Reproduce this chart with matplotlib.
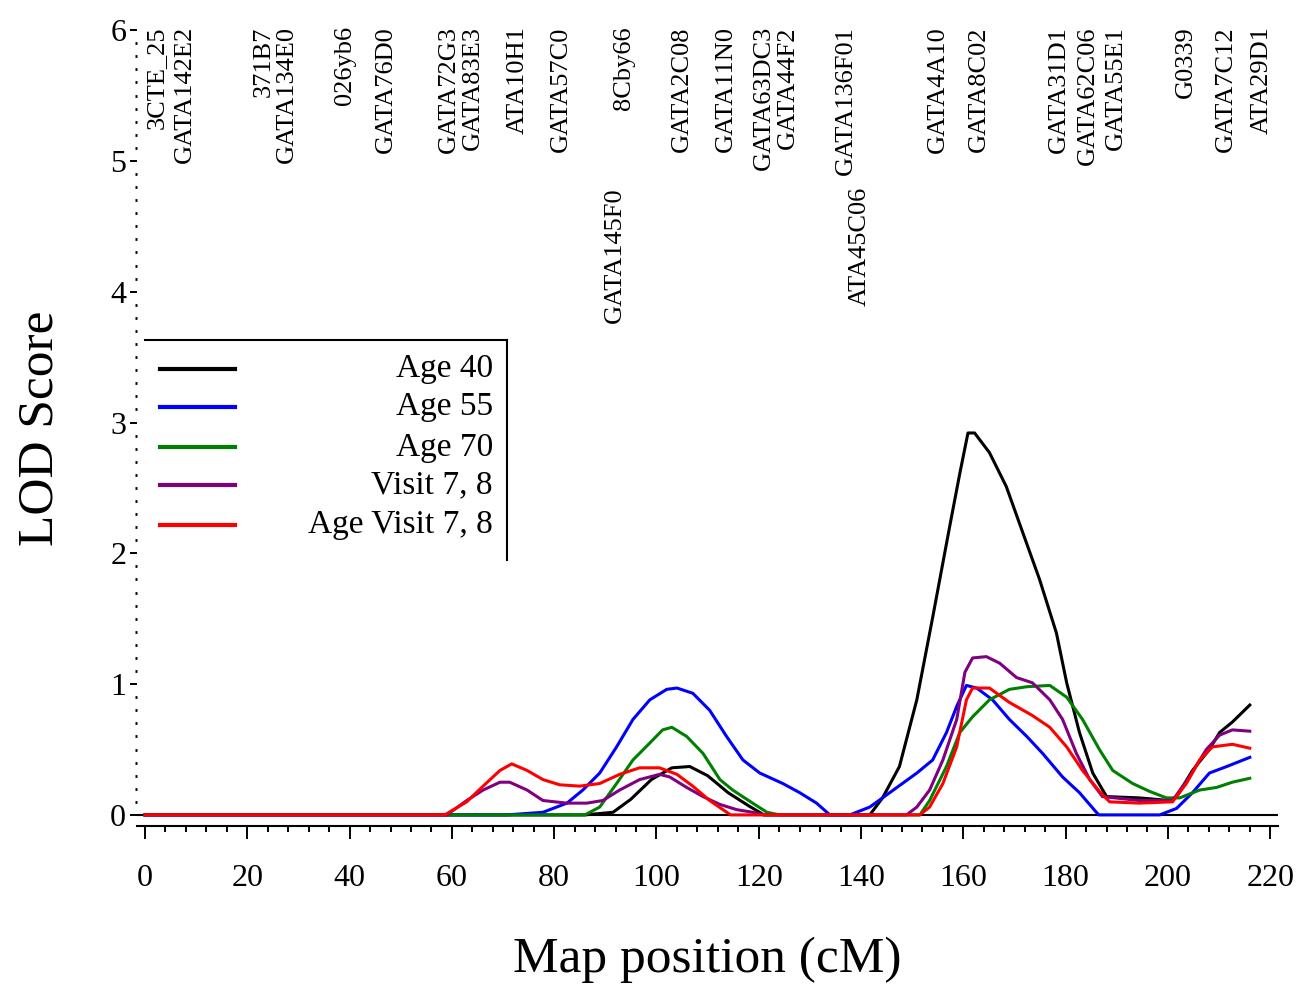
import numpy as np
import matplotlib
matplotlib.use("Agg")
import matplotlib.pyplot as plt
from matplotlib.ticker import MultipleLocator

plt.rcParams['font.family'] = ['Liberation Serif', 'DejaVu Serif']

# LOD curves (map position in cM, LOD score)
pos_age40 = [0, 86, 91.5, 95, 99, 103, 106.5, 110, 114, 118, 121, 141.7, 144.2, 147.5, 150.9, 154,
             157.3, 159.3, 160.9, 162.2, 165.1, 168.4, 171.6, 174.9, 178.2, 180.2, 182.7, 185.3,
             188, 194.4, 200.3, 201.7, 204.8, 208.1, 210.1, 212.6, 216]
lod_age40 = [0, 0, 0.02, 0.12, 0.27, 0.36, 0.37, 0.30, 0.17, 0.07, 0, 0, 0.13, 0.37, 0.88, 1.51,
             2.2, 2.61, 2.92, 2.92, 2.77, 2.51, 2.16, 1.80, 1.39, 1.01, 0.63, 0.32,
             0.14, 0.13, 0.11, 0.14, 0.34, 0.50, 0.63, 0.71, 0.84]

pos_age55 = [0, 70.7, 77.8, 82.5, 85.6, 88.9, 92.2, 95.4, 98.7, 102, 104, 107.1, 110.4, 113.7,
             116.9, 120.2, 124.7, 128, 131.3, 133.9, 137.8, 141.7, 145.6, 150.9, 154, 156.7,
             158.7, 160.6, 162.6, 165.7, 169, 172.4, 175.5, 179.4, 182.7, 186, 186.5, 198.4,
             201.7, 204.8, 208.1, 211.5, 216]
lod_age55 = [0, 0, 0.02, 0.09, 0.19, 0.32, 0.52, 0.73, 0.88, 0.96, 0.97, 0.93, 0.80, 0.60,
             0.42, 0.32, 0.24, 0.17, 0.09, 0, 0, 0.06, 0.17, 0.32, 0.42, 0.63,
             0.83, 0.99, 0.97, 0.88, 0.73, 0.60, 0.47, 0.29, 0.17, 0.02, 0, 0,
             0.05, 0.17, 0.32, 0.37, 0.44]

pos_age70 = [0, 86, 88.9, 92.2, 95.4, 98.7, 101.2, 103, 105.9, 109.1, 112.4, 114.9, 118.8, 121.6,
             124.1, 151.5, 153.4, 156.7, 159.3, 161.8, 165.1, 169, 172.4, 176.9, 180.2, 183.3,
             186.6, 189.2, 193.1, 196.4, 199.7, 202.3, 206.2, 209.5, 212.6, 216]
lod_age70 = [0, 0, 0.06, 0.24, 0.42, 0.55, 0.65, 0.67, 0.60, 0.47, 0.27, 0.19, 0.09, 0.02,
             0, 0, 0.11, 0.37, 0.63, 0.75, 0.88, 0.96, 0.98, 0.99, 0.90, 0.73,
             0.50, 0.34, 0.24, 0.18, 0.13, 0.13, 0.19, 0.21, 0.25, 0.28]

pos_visit = [0, 59, 62.9, 66.1, 69.4, 71.3, 74.7, 77.8, 82.5, 86.4, 89.5, 92.8, 96.7, 100.6,
             102.6, 105.9, 109.1, 112.4, 115.7, 118.8, 121, 148.9, 150.9, 153.4, 156, 158.7,
             160.3, 161.8, 164.5, 167.1, 170.4, 173.5, 176.9, 179.4, 182.1, 184.7, 187.2,
             194.4, 200.9, 204.2, 207.5, 210.1, 212.6, 216]
lod_visit = [0, 0, 0.11, 0.19, 0.25, 0.25, 0.19, 0.11, 0.09, 0.09, 0.11, 0.19, 0.27, 0.31,
             0.29, 0.21, 0.14, 0.08, 0.04, 0.02, 0, 0, 0.06, 0.19, 0.42, 0.73,
             1.09, 1.20, 1.21, 1.16, 1.05, 1.01, 0.88, 0.73, 0.47, 0.27, 0.14,
             0.11, 0.11, 0.29, 0.50, 0.61, 0.65, 0.64]

pos_agevisit = [0, 58.6, 62.9, 66.1, 69.4, 71.7, 74.7, 77.8, 81.1, 85, 88.9, 92.8, 96.7, 100.6,
                104, 107.1, 110.4, 113, 114.5, 151.5, 153.4, 156, 158.7, 160.6, 161.8, 165.1,
                169, 173.5, 176.9, 180.2, 183.3, 186.6, 188.6, 194.4, 200.9, 203.6, 206.2,
                208.7, 212.6, 216]
lod_agevisit = [0, 0, 0.10, 0.22, 0.34, 0.39, 0.34, 0.27, 0.23, 0.22, 0.24, 0.31, 0.36, 0.36,
                0.31, 0.22, 0.11, 0.04, 0, 0, 0.06, 0.24, 0.52, 0.88, 0.97, 0.97,
                0.86, 0.76, 0.67, 0.52, 0.34, 0.18, 0.10, 0.09, 0.10, 0.24, 0.42,
                0.52, 0.54, 0.51]

series_names = ['Age 40', 'Age 55', 'Age 70', 'Visit 7, 8', 'Age Visit 7, 8']
series_colors = ['black', '#0000ff', '#008000', '#800080', '#ff0000']

# marker names along the top (position in cM)
marker_names = ['3CTE_25', 'GATA142E2', '371B7', 'GATA134E0', '026yb6', 'GATA76D0',
                'GATA72G3', 'GATA83E3', 'ATA10H1', 'GATA57C0', '8Cby66', 'GATA2C08',
                'GATA11N0', 'GATA63DC3', 'GATA44F2', 'GATA136F01', 'GATA4A10', 'GATA8C02',
                'GATA31D1', 'GATA62C06', 'GATA55E1', 'G0339', 'GATA7C12', 'ATA29D1']
marker_pos = [2.3, 7.8, 23.3, 27.8, 39.1, 47.1, 59.4, 64.1, 72.9, 81.3, 93.6, 104.9,
              113.5, 121, 125.7, 137, 155, 163, 178.6, 184.3, 189.9, 203.6, 211.3, 218.4]
marker2_names = ['GATA145F0', 'ATA45C06']
marker2_pos = [91.9, 139.7]

fig = plt.figure(figsize=(13.08, 9.85), dpi=100)
ax = fig.add_axes([0.105, 0.1614, 0.872, 0.808])

ax.axhline(0, color='black', lw=1.5, zorder=1)
all_pos = [pos_age40, pos_age55, pos_age70, pos_visit, pos_agevisit]
all_lod = [lod_age40, lod_age55, lod_age70, lod_visit, lod_agevisit]
for p, l, c in zip(all_pos, all_lod, series_colors):
    ax.plot(p, l, color=c, lw=2.2, zorder=2)

ax.set_xlim(-1.5, 221.5)
ax.set_ylim(-0.085, 6.0)

for s in ['top', 'right', 'left']:
    ax.spines[s].set_visible(False)
ax.spines['bottom'].set_linewidth(1.5)

ax.xaxis.set_major_locator(MultipleLocator(20))
ax.xaxis.set_minor_locator(MultipleLocator(4))
ax.yaxis.set_major_locator(MultipleLocator(1))
ax.yaxis.set_minor_locator(MultipleLocator(0.1))
ax.tick_params(axis='x', which='major', length=9, width=1.4, pad=18, labelsize=23)
ax.tick_params(axis='x', which='minor', length=4.5, width=1.4)
ax.tick_params(axis='y', which='major', length=5, width=1.4, pad=3, labelsize=23)
ax.tick_params(axis='y', which='minor', length=1.5, width=2)

ax.set_xlabel('Map position (cM)', fontsize=37, labelpad=32)
ax.set_ylabel('LOD Score', fontsize=37, labelpad=34)

for name, x in zip(marker_names, marker_pos):
    ax.text(x, 6.03, name, rotation=90, ha='center', va='top', fontsize=19, clip_on=False)
for name, x in zip(marker2_names, marker2_pos):
    ax.text(x, 4.80, name, rotation=90, ha='center', va='top', fontsize=19, clip_on=False)

# legend box (only top and right edges drawn, as in the figure)
ax.plot([0, 70.7], [3.63, 3.63], color='black', lw=1.5, clip_on=False)
ax.plot([70.7, 70.7], [3.63, 1.95], color='black', lw=1.5, clip_on=False)
leg_y = [3.41, 3.12, 2.81, 2.52, 2.22]
for name, c, y in zip(series_names, series_colors, leg_y):
    ax.plot([2.9, 17.6], [y, y], color=c, lw=3)
    ax.text(68.0, y, name, ha='right', va='center', fontsize=24)

fig.savefig('out.png', dpi=100)
